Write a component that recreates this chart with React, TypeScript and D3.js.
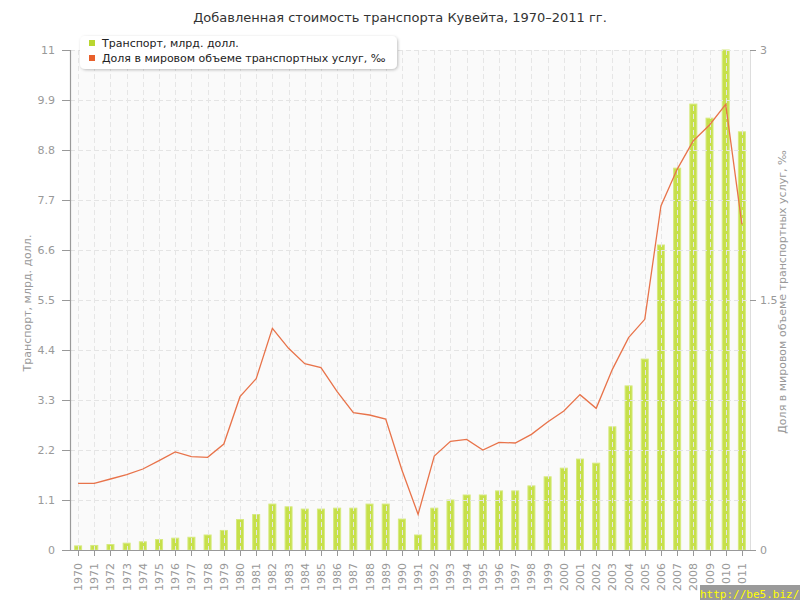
import React from "react";
import * as d3 from "d3";

const years: string[] = Array.from({ length: 42 }, (_, i) => String(1970 + i));
const transport: number[] = [
  0.09, 0.1, 0.12, 0.15, 0.18, 0.23, 0.26, 0.28, 0.33, 0.43,
  0.67, 0.78, 1.01, 0.95, 0.9, 0.9, 0.92, 0.92, 1.01, 1.01,
  0.68, 0.33, 0.92, 1.1, 1.21, 1.21, 1.3, 1.3, 1.41, 1.61,
  1.8, 2.0, 1.91, 2.71, 3.61, 4.2, 6.71, 8.4, 9.81, 9.5,
  11.0, 9.2,
];
const share: number[] = [
  0.4, 0.4, 0.426, 0.452, 0.486, 0.536, 0.588, 0.56, 0.556, 0.636,
  0.92, 1.028, 1.33, 1.21, 1.118, 1.094, 0.95, 0.824, 0.81, 0.786,
  0.48, 0.214, 0.564, 0.652, 0.664, 0.6, 0.646, 0.642, 0.694, 0.768,
  0.834, 0.932, 0.85, 1.084, 1.274, 1.384, 2.064, 2.284, 2.456, 2.55,
  2.674, 1.954,
];
const leftTicks: number[] = [0, 1.1, 2.2, 3.3, 4.4, 5.5, 6.6, 7.7, 8.8, 9.9, 11];
const rightTicks: number[] = [0, 1.5, 3];

const title = "Добавленная стоимость транспорта Кувейта, 1970–2011 гг.";
const seriesNames = ["Транспорт, млрд. долл.", "Доля в мировом объеме транспортных услуг, ‰"];
const leftTitle = "Транспорт, млрд. долл.";
const rightTitle = "Доля в мировом объеме транспортных услуг, ‰";

export default function App() {
  const W = 800, H = 600;
  const L = 70, R = 750, T = 50, B = 550;
  const font = "DejaVu Sans, Verdana, sans-serif";
  const x = d3.scaleBand<string>().domain(years).range([L, R]).padding(0);
  const yL = d3.scaleLinear().domain([0, 11]).range([B, T]);
  const yR = d3.scaleLinear().domain([0, 3]).range([B, T]);
  const cx = (d: string) => (x(d) as number) + x.bandwidth() / 2;
  const line = d3
    .line<number>()
    .x((_, i) => cx(years[i]))
    .y((d) => yR(d));
  const barW = 7;
  const fmt = (v: number) => (v === 0 ? "0" : String(v));

  return (
    <svg width={W} height={H} style={{ position: "absolute", left: 0, top: 0, fontFamily: font }}>
      <defs>
        <filter id="sh" x="-10%" y="-30%" width="120%" height="160%">
          <feDropShadow dx="1" dy="1" stdDeviation="1.5" floodColor="#000" floodOpacity="0.25" />
        </filter>
      </defs>
      <rect x={0} y={0} width={W} height={H} fill="#fff" />
      <text x={400} y={22} textAnchor="middle" fontSize={13} fill="#333">{title}</text>
      <rect x={L} y={T} width={R - L} height={B - T} fill="#fafafa" />
      {/* bars */}
      {transport.map((v, i) => (
        <rect
          key={"b" + i}
          x={cx(years[i]) - barW / 2}
          y={yL(Math.min(v, 11))}
          width={barW}
          height={B - yL(Math.min(v, 11))}
          fill="#c6e04a"
          stroke="#d6ea7e"
          strokeWidth={1}
        />
      ))}
      {/* grid */}
      {leftTicks.map((t, i) => (
        <line key={"gh" + i} x1={L} x2={R} y1={yL(t) + 0.5} y2={yL(t) + 0.5} stroke="#e4e4e4" strokeDasharray="5,3" />
      ))}
      {years.map((yr, i) => (
        <line key={"gv" + i} x1={Math.round(cx(yr)) + 0.5} x2={Math.round(cx(yr)) + 0.5} y1={T} y2={B} stroke="#e6e6e6" strokeDasharray="5,3" />
      ))}
      <line x1={R + 0.5} x2={R + 0.5} y1={T} y2={B} stroke="#ddd" />
      {/* line series */}
      <path d={line(share) || ""} fill="none" stroke="#e8734a" strokeWidth={1.3} />
      {/* left axis */}
      <line x1={L + 0.5} x2={L + 0.5} y1={T} y2={B} stroke="#999" strokeWidth={1.2} />
      {leftTicks.map((t, i) => (
        <g key={"lt" + i}>
          <line x1={L - 8} x2={L} y1={yL(t) + 0.5} y2={yL(t) + 0.5} stroke="#999" />
          <text x={L - 15} y={yL(t) + 4} textAnchor="end" fontSize={11} fill="#999">{fmt(t)}</text>
        </g>
      ))}
      <text transform={`translate(31,303) rotate(-90)`} textAnchor="middle" fontSize={11} fill="#999">{leftTitle}</text>
      {/* right axis */}
      {rightTicks.map((t, i) => (
        <g key={"rt" + i}>
          <line x1={R} x2={R + 6} y1={yR(t) + 0.5} y2={yR(t) + 0.5} stroke="#999" />
          <text x={R + 10} y={yR(t) + 4} textAnchor="start" fontSize={11} fill="#999">{fmt(t)}</text>
        </g>
      ))}
      <text transform={`translate(786,292) rotate(-90)`} textAnchor="middle" fontSize={11} fill="#999">{rightTitle}</text>
      {/* bottom axis */}
      <line x1={L - 5} x2={R + 5} y1={B + 0.5} y2={B + 0.5} stroke="#999" strokeWidth={1.2} />
      {years.map((yr, i) => (
        <g key={"xt" + i}>
          <line x1={Math.round(cx(yr)) + 0.5} x2={Math.round(cx(yr)) + 0.5} y1={B} y2={B + 6} stroke="#999" />
          <text transform={`translate(${cx(yr) + 4},${B + 13}) rotate(-90)`} textAnchor="end" fontSize={11} fill="#999">{yr}</text>
        </g>
      ))}
      {/* legend */}
      <rect x={80} y={36} width={317} height={33} rx={5} fill="#fff" filter="url(#sh)" />
      <rect x={89} y={40} width={6} height={6} fill="#b9d630" />
      <text x={102} y={47} fontSize={11} fill="#222">{seriesNames[0]}</text>
      <rect x={89} y={55} width={6} height={6} fill="#e8602c" />
      <text x={102} y={62} fontSize={11} fill="#222">{seriesNames[1]}</text>
      {/* watermark */}
      <rect x={700} y={585} width={100} height={15} fill="#9a9a9a" />
      <text x={700} y={598} fontSize={11} fill="#ffff00" fontFamily="DejaVu Sans Mono, monospace">http://be5.biz/</text>
    </svg>
  );
}
